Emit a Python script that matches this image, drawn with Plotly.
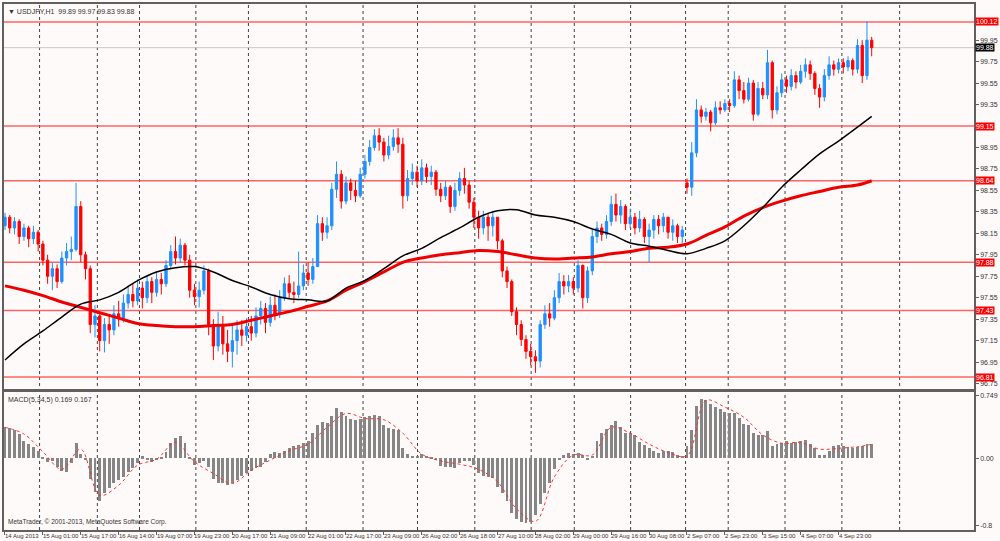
import plotly.graph_objects as go

# USDJPY H1 (two-hour candles), 14 Aug - 5 Sep 2013
closes = [98.30, 98.20, 98.26, 98.12, 98.20, 98.10, 98.16, 98.05,
          97.90, 97.75, 97.82, 97.70, 97.92, 97.98, 98.00, 98.40, 97.95, 97.82,
          97.30, 97.38, 97.15, 97.30, 97.25, 97.40, 97.36, 97.50, 97.58, 97.52, 97.64,
          97.55, 97.70, 97.60, 97.72, 97.68, 97.85, 97.98, 97.92, 98.04, 97.90, 97.62, 97.56, 97.62, 97.80,
          97.30, 97.10, 97.28, 97.12, 97.05, 97.15, 97.25, 97.20, 97.28, 97.22, 97.38, 97.45, 97.32, 97.48,
          97.40, 97.55, 97.68, 97.60, 97.58, 97.66, 97.78, 97.72, 97.84, 98.24, 98.16, 98.22,
          98.56, 98.70, 98.45, 98.62, 98.55, 98.50, 98.70, 98.82, 98.95, 99.06, 99.00, 98.88, 98.96, 99.04, 98.98, 98.50,
          98.66, 98.72, 98.64, 98.76, 98.68, 98.72, 98.56, 98.50, 98.58, 98.40, 98.55, 98.66, 98.60, 98.44, 98.30, 98.20, 98.30, 98.22, 98.30, 98.08,
          97.80, 97.70, 97.42, 97.30, 97.16, 97.05, 97.00, 96.96, 97.30, 97.40, 97.36, 97.55, 97.70, 97.66, 97.70, 97.64, 97.85, 97.55,
          97.80, 98.12, 98.20, 98.14, 98.26, 98.42, 98.32, 98.40, 98.24, 98.30, 98.20, 98.28, 98.12, 98.18, 98.28, 98.22, 98.30, 98.16, 98.22, 98.12, 98.18,
          98.58, 98.90, 99.30, 99.24, 99.28, 99.18, 99.32, 99.30, 99.36, 99.34, 99.58, 99.48, 99.40, 99.55, 99.26, 99.50, 99.44, 99.74, 99.30, 99.46,
          99.58, 99.52, 99.62, 99.56, 99.66, 99.72, 99.64, 99.50, 99.42, 99.62, 99.72, 99.68, 99.74, 99.70, 99.76, 99.68, 99.90, 99.62, 99.95, 99.88]

highs = [98.34, 98.32, 98.30, 98.28, 98.24, 98.22, 98.22, 98.18,
         98.08, 97.95, 97.88, 97.86, 97.98, 98.06, 98.12, 98.62, 98.45, 97.98,
         97.85, 97.48, 97.42, 97.36, 97.40, 97.48, 97.52, 97.58, 97.66, 97.68, 97.72,
         97.70, 97.76, 97.74, 97.80, 97.78, 97.90, 98.04, 98.12, 98.10, 98.06, 97.95, 97.68, 97.70, 97.85,
         97.82, 97.35, 97.42, 97.38, 97.25, 97.30, 97.34, 97.34, 97.36, 97.38, 97.46, 97.52, 97.50, 97.56,
         97.58, 97.62, 97.74, 97.76, 97.70, 97.98, 97.86, 97.88, 97.92, 98.32, 98.30, 98.30,
         98.62, 98.82, 98.74, 98.68, 98.66, 98.64, 98.76, 98.88, 99.02, 99.12, 99.13, 99.04, 99.06, 99.12, 99.13, 99.04,
         98.74, 98.80, 98.78, 98.84, 98.80, 98.78, 98.74, 98.62, 98.64, 98.60, 98.62, 98.72, 98.76, 98.64, 98.48, 98.36, 98.36, 98.34, 98.36, 98.30,
         98.10, 97.84, 97.72, 97.46, 97.34, 97.20, 97.12, 97.06, 97.34, 97.48, 97.50, 97.62, 97.78, 97.76, 97.76, 97.74, 97.90, 97.86,
         97.84, 98.18, 98.26, 98.24, 98.32, 98.50, 98.52, 98.46, 98.42, 98.38, 98.34, 98.36, 98.30, 98.24, 98.32, 98.32, 98.34, 98.30, 98.28, 98.24, 98.22,
         98.66, 99.00, 99.40, 99.34, 99.32, 99.30, 99.38, 99.38, 99.40, 99.40, 99.66, 99.62, 99.56, 99.60, 99.58, 99.56, 99.56, 99.86, 99.76, 99.52,
         99.64, 99.62, 99.68, 99.66, 99.72, 99.78, 99.76, 99.66, 99.54, 99.68, 99.80, 99.76, 99.78, 99.78, 99.80, 99.78, 99.96, 99.95, 100.13, 99.98]

lows = [98.18, 98.15, 98.14, 98.05, 98.08, 98.02, 98.05, 97.98,
        97.85, 97.68, 97.62, 97.64, 97.68, 97.85, 97.90, 97.98, 97.88, 97.72,
        97.22, 97.18, 97.05, 97.04, 97.12, 97.20, 97.28, 97.32, 97.45, 97.46, 97.48,
        97.45, 97.50, 97.50, 97.56, 97.58, 97.65, 97.82, 97.86, 97.88, 97.85, 97.55, 97.48, 97.46, 97.58,
        97.20, 96.97, 97.05, 97.02, 96.95, 96.90, 97.02, 97.10, 97.14, 97.15, 97.18, 97.30, 97.22, 97.28,
        97.34, 97.36, 97.52, 97.54, 97.50, 97.55, 97.62, 97.66, 97.68, 97.84, 98.08, 98.10,
        98.18, 98.48, 98.38, 98.42, 98.46, 98.44, 98.48, 98.66, 98.78, 98.92, 98.92, 98.82, 98.84, 98.92, 98.90, 98.38,
        98.45, 98.60, 98.58, 98.60, 98.62, 98.60, 98.50, 98.44, 98.46, 98.34, 98.36, 98.50, 98.52, 98.38, 98.20, 98.10, 98.14, 98.08, 98.12, 98.00,
        97.74, 97.64, 97.38, 97.20, 97.10, 96.98, 96.92, 96.85, 96.90, 97.26, 97.28, 97.34, 97.50, 97.58, 97.60, 97.58, 97.60, 97.45,
        97.50, 97.76, 98.06, 98.08, 98.10, 98.22, 98.26, 98.24, 98.18, 98.20, 98.14, 98.16, 98.06, 97.88, 98.10, 98.14, 98.16, 98.10, 98.08, 98.06, 98.06,
        98.52, 98.50, 98.86, 99.18, 99.20, 99.10, 99.16, 99.26, 99.28, 99.28, 99.32, 99.40, 99.36, 99.38, 99.20, 99.24, 99.40, 99.40, 99.22, 99.26,
        99.42, 99.46, 99.48, 99.50, 99.54, 99.60, 99.58, 99.44, 99.32, 99.38, 99.58, 99.62, 99.64, 99.64, 99.66, 99.62, 99.64, 99.55, 99.58, 99.80]

# each candle opens at the previous close, except the first one and the Monday gap
first_open = 98.22
gap_bar = 144
gap_open = 98.62
opens = [first_open] + closes[:-1]
opens[gap_bar] = gap_open

bars = list(range(len(closes)))

# moving averages and MACD signal, read every 4th bar
ma_bars = list(range(0, 181, 4)) + [183]
ma_black = [96.97, 97.12, 97.24, 97.37, 97.49, 97.53, 97.60, 97.71, 97.79, 97.83,
            97.84, 97.79, 97.71, 97.65, 97.58, 97.54, 97.53, 97.52, 97.64, 97.71,
            97.82, 97.94, 98.01, 98.11, 98.20, 98.30, 98.36, 98.37, 98.32, 98.30,
            98.26, 98.19, 98.14, 98.06, 98.03, 97.99, 97.96, 98.01, 98.08, 98.22,
            98.39, 98.58, 98.74, 98.89, 99.01, 99.14, 99.24]
ma_red = [97.66, 97.62, 97.57, 97.51, 97.46, 97.41, 97.36, 97.31, 97.29, 97.28,
          97.28, 97.29, 97.30, 97.34, 97.38, 97.42, 97.47, 97.52, 97.62, 97.70,
          97.79, 97.88, 97.92, 97.95, 97.97, 97.99, 97.98, 97.95, 97.92, 97.91,
          97.92, 97.93, 97.96, 97.98, 98.01, 98.02, 98.05, 98.13, 98.21, 98.31,
          98.39, 98.45, 98.50, 98.54, 98.58, 98.60, 98.64]
macd_signal = [0.37, 0.29, 0.08, -0.13, 0.11, -0.44, -0.32, -0.08, -0.01, 0.19,
               -0.04, -0.18, -0.30, -0.14, -0.02, 0.09, 0.17, 0.37, 0.535, 0.475,
               0.46, 0.30, 0.05, -0.03, -0.07, -0.13, -0.28, -0.60, -0.75, -0.22,
               0.04, 0.04, 0.37, 0.30, 0.17, 0.07, 0.03, 0.69, 0.61, 0.49,
               0.28, 0.18, 0.19, 0.11, 0.12, 0.14, 0.167]

macd_hist = [0.37, 0.36, 0.33, 0.29, 0.20, 0.17, 0.13, 0.09,
             0.01, -0.05, -0.03, -0.11, -0.15, -0.16, -0.06, 0.18, 0.05, -0.02,
             -0.25, -0.40, -0.51, -0.42, -0.36, -0.30, -0.26, -0.22, -0.17, -0.12, -0.06,
             0.02, -0.02, -0.04, -0.02, 0.01, 0.07, 0.18, 0.24, 0.26, 0.18, 0.01, -0.08, -0.06, -0.03,
             -0.10, -0.25, -0.30, -0.30, -0.32, -0.30, -0.26, -0.21, -0.18, -0.15, -0.12, -0.10, -0.05, 0.05,
             0.07, 0.06, 0.08, 0.12, 0.14, 0.16, 0.18, 0.21, 0.30, 0.39, 0.43, 0.42,
             0.50, 0.60, 0.55, 0.50, 0.47, 0.455, 0.47, 0.49, 0.505, 0.515, 0.50, 0.40, 0.36, 0.345, 0.34, 0.12,
             0.05, 0.03, 0.03, 0.05, 0.03, 0.01, -0.02, -0.09, -0.10, -0.10, -0.12, -0.06, -0.03, -0.03, -0.08, -0.18, -0.21, -0.22, -0.24, -0.34,
             -0.42, -0.51, -0.65, -0.72, -0.76, -0.77, -0.76, -0.68, -0.55, -0.42, -0.29, -0.13, -0.02, 0.04, 0.06, 0.05, 0.06, 0.04,
             -0.02, 0.03, 0.21, 0.30, 0.35, 0.40, 0.44, 0.37, 0.30, 0.30, 0.28, 0.19, 0.155, 0.12, 0.08, 0.06, 0.08, 0.09, 0.07, 0.04, 0.025,
             0.15, 0.33, 0.62, 0.71, 0.69, 0.65, 0.61, 0.58, 0.55, 0.535, 0.54, 0.48, 0.41, 0.40, 0.30, 0.28, 0.28, 0.32, 0.14, 0.17,
             0.18, 0.20, 0.18, 0.19, 0.20, 0.215, 0.17, 0.12, 0.04, 0.04, 0.09, 0.14, 0.16, 0.14, 0.13, 0.12, 0.135, 0.15, 0.17, 0.169]

# horizontal levels drawn on the chart and the current price
levels = [100.12, 99.15, 98.64, 97.88, 97.43, 96.81]
last_price = 99.88

# day separators (bar positions) and time labels every 8 bars
day_breaks = [7.3, 19.5, 28.4, 40.3, 51.4, 63.6, 75.6, 87.1, 99.2, 111.1,
              120.2, 132.1, 143.7, 152.7, 164.7, 176.7, 188.9]
time_labels = ["14 Aug 2013", "15 Aug 01:00", "15 Aug 17:00", "16 Aug 14:00", "19 Aug 07:00",
               "19 Aug 23:00", "20 Aug 17:00", "21 Aug 09:00", "22 Aug 01:00", "22 Aug 17:00",
               "23 Aug 09:00", "26 Aug 02:00", "26 Aug 18:00", "27 Aug 10:00", "28 Aug 02:00",
               "29 Aug 00:00", "29 Aug 16:00", "30 Aug 08:00", "2 Sep 07:00", "2 Sep 23:00",
               "3 Sep 15:00", "4 Sep 07:00", "4 Sep 23:00"]
label_bars = list(range(0, 8 * len(time_labels), 8))

# 99.15 is shown by its red level box instead of a plain tick label
price_ticks = [96.75, 96.95, 97.15, 97.35, 97.55, 97.75, 97.95, 98.15, 98.35,
               98.55, 98.75, 98.95, 99.35, 99.55, 99.75, 99.95]
macd_ticks = [0.749, 0.0, -0.8]
macd_ticktext = ["0.749", "0.00", "-0.8"]

BG = "#fffafa"
FONT = "Liberation Sans, Arial, sans-serif"
AXIS = "#606060"
TXT = "#333333"

fig = go.Figure()

fig.add_trace(go.Candlestick(
    x=bars, open=opens, high=highs, low=lows, close=closes,
    increasing=dict(line=dict(color="#1e90ff", width=1), fillcolor="#1e90ff"),
    decreasing=dict(line=dict(color="#ff0000", width=1), fillcolor="#ff0000"),
    whiskerwidth=0, showlegend=False, xaxis="x", yaxis="y"))

fig.add_trace(go.Scatter(x=ma_bars, y=ma_red, mode="lines",
                         line=dict(color="#ee0000", width=3, shape="spline"),
                         showlegend=False, xaxis="x", yaxis="y"))
fig.add_trace(go.Scatter(x=ma_bars, y=ma_black, mode="lines",
                         line=dict(color="#000000", width=1.5, shape="spline"),
                         showlegend=False, xaxis="x", yaxis="y"))

fig.add_trace(go.Bar(x=bars, y=macd_hist, width=0.62,
                     marker=dict(color="#868686", line=dict(width=0)),
                     showlegend=False, xaxis="x2", yaxis="y2"))
fig.add_trace(go.Scatter(x=ma_bars, y=macd_signal, mode="lines",
                         line=dict(color="#ff3030", width=1, dash="dot", shape="spline"),
                         showlegend=False, xaxis="x2", yaxis="y2"))

shapes = []
for b in day_breaks:
    shapes.append(dict(type="line", xref="x", yref="paper", x0=b, x1=b, y0=0, y1=1,
                       line=dict(color="#404040", width=1, dash="dot"), layer="below"))
for lv in levels:
    shapes.append(dict(type="line", xref="paper", yref="y", x0=0, x1=1, y0=lv, y1=lv,
                       line=dict(color="rgba(255,60,60,0.8)", width=1.5), layer="below"))
shapes.append(dict(type="line", xref="paper", yref="y", x0=0, x1=1, y0=last_price, y1=last_price,
                   line=dict(color="#c8c8c8", width=1), layer="below"))

annotations = []
for lv in levels:
    annotations.append(dict(xref="paper", yref="y", x=1, y=lv, xanchor="left", xshift=1,
                            text=f"{lv:.2f}", showarrow=False, bgcolor="#ff0000", borderpad=0,
                            font=dict(family=FONT, size=7, color="white")))
annotations.append(dict(xref="paper", yref="y", x=1, y=last_price, xanchor="left", xshift=1,
                        text=f"{last_price:.2f}", showarrow=False, bgcolor="#000000", borderpad=0,
                        font=dict(family=FONT, size=7, color="white")))
for b, t in zip(label_bars, time_labels):
    annotations.append(dict(xref="x2", yref="paper", x=b, y=0, xanchor="left", yanchor="top",
                            xshift=-2, yshift=-1, text=t, showarrow=False,
                            font=dict(family=FONT, size=6, color=TXT)))
annotations.append(dict(xref="paper", yref="paper", x=0, y=1, xanchor="left", yanchor="top",
                        xshift=2, yshift=-2, text="\u25bc USDJPY,H1  99.89 99.97 99.83 99.88",
                        showarrow=False, font=dict(family=FONT, size=7, color=TXT)))
annotations.append(dict(xref="paper", yref="paper", x=0, y=0.2619, xanchor="left", yanchor="top",
                        xshift=2, yshift=-2, text="MACD(5,34,5) 0.169 0.167",
                        showarrow=False, font=dict(family=FONT, size=7, color=TXT)))
annotations.append(dict(xref="paper", yref="paper", x=0, y=0, xanchor="left", yanchor="bottom",
                        xshift=2, yshift=2, text="MetaTrader, \u00a9 2001-2013, MetaQuotes Software Corp.",
                        showarrow=False, font=dict(family=FONT, size=6.5, color=TXT)))

x_range = [-0.21, 204.6]

fig.update_layout(
    width=1000, height=541,
    margin=dict(l=2, r=23, t=3, b=11),
    paper_bgcolor=BG, plot_bgcolor=BG,
    font=dict(family=FONT, size=7, color=TXT),
    showlegend=False, bargap=0,
    shapes=shapes, annotations=annotations,
    xaxis=dict(domain=[0, 1], range=x_range, anchor="y", showticklabels=False,
               showgrid=False, zeroline=False, rangeslider=dict(visible=False),
               showline=True, mirror=True, linecolor=AXIS, linewidth=1.5),
    xaxis2=dict(domain=[0, 1], range=x_range, matches="x", anchor="y2",
                tickmode="array", tickvals=label_bars, ticks="outside", ticklen=3,
                tickcolor=AXIS, showticklabels=False, showgrid=False, zeroline=False,
                showline=True, mirror=True, linecolor=AXIS, linewidth=1.5),
    yaxis=dict(domain=[0.2676, 1], range=[96.697, 100.287], side="right", anchor="x",
               tickmode="array", tickvals=price_ticks, ticktext=[f"{v:.2f}" for v in price_ticks],
               ticks="outside", ticklen=3, tickcolor=AXIS, tickfont=dict(size=7, color=TXT),
               showgrid=False, zeroline=False, showline=True, mirror=True,
               linecolor=AXIS, linewidth=1.5),
    yaxis2=dict(domain=[0, 0.2619], range=[-0.853, 0.788], side="right", anchor="x2",
                tickmode="array", tickvals=macd_ticks, ticktext=macd_ticktext,
                ticks="outside", ticklen=3, tickcolor=AXIS, tickfont=dict(size=7, color=TXT),
                showgrid=False, zeroline=False, showline=True, mirror=True,
                linecolor=AXIS, linewidth=1.5),
)

# drop the browser's default page margin so the 1000x541 figure fills the window
fig.write_html("out.html", config={"displayModeBar": False},
               post_script="document.body.style.margin='0';document.body.style.overflow='hidden';")
